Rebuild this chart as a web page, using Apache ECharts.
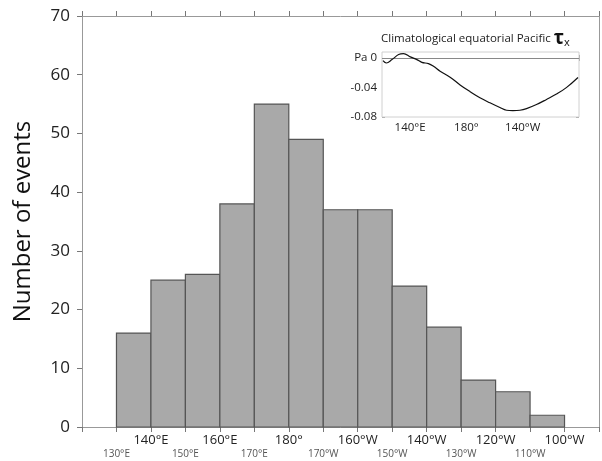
<!DOCTYPE html>
<html><head><meta charset="utf-8">
<script src="https://cdn.jsdelivr.net/npm/echarts@6/dist/echarts.min.js"></script>
<style>html,body{margin:0;padding:0;background:#fff}#c{width:602px;height:461px}</style>
</head><body><div id="c"></div>
<script>
// Histogram bins (degrees east longitude) and counts
const binStart = [130,140,150,160,170,180,190,200,210,220,230,240,250];
const binEnd   = [140,150,160,170,180,190,200,210,220,230,240,250,260];
const counts   = [16,25,26,38,55,49,37,37,24,17,8,6,2];
// Tick labels of the main x axis
const majorLabels = {140:'140°E',160:'160°E',180:'180°',200:'160°W',220:'140°W',240:'120°W',260:'100°W'};
const minorLabels = {130:'130°E',150:'150°E',170:'170°E',190:'170°W',210:'150°W',230:'130°W',250:'110°W'};
// Inset: climatological equatorial Pacific zonal wind stress (Pa)
const tauLon = [120.7,123.1,127.1,131.8,135.3,140.1,144.8,148.3,153.0,156.6,161.3,168.4,175.5,182.6,189.6,196.7,203.8,208.5,213,218.0,222.7,229.8,236.9,244.0,251.0,259.3];
const tauVal = [-0.0037,-0.0069,-0.0023,0.0046,0.0059,0.0014,-0.0023,-0.006,-0.0078,-0.0114,-0.018,-0.0261,-0.0366,-0.0457,-0.0539,-0.0608,-0.0672,-0.0709,-0.0715,-0.0709,-0.0686,-0.0631,-0.0562,-0.0489,-0.0402,-0.0265];
const insetLabels = {140:'140°E',180:'180°',220:'140°W'};

const FONT = '"Open Sans", "Noto Sans", sans-serif';
const barData = binStart.map((s,i)=>[s, binEnd[i], counts[i]]);
const tauData = tauLon.map((l,i)=>[l, tauVal[i]]);

const chart = echarts.init(document.getElementById('c'), null, {renderer:'canvas'});
chart.setOption({
  animation:false,
  backgroundColor:'#fff',
  textStyle:{fontFamily:FONT},
  graphic:[{
    type:'text', left:381, top:29, z:20,
    style:{text:'Climatological equatorial Pacific {t|τ}{s|x}',
      font:'11.5px '+FONT, fill:'#222',
      rich:{t:{fontSize:19, fontWeight:'bold', fill:'#111', fontFamily:FONT},
            s:{fontSize:11, fill:'#111', padding:[9,0,0,0], fontFamily:FONT}}}
  }],
  grid:[
    {left:82, top:16, right:1, bottom:34, show:false},
    {left:382, top:52, width:197, height:65, show:true, borderColor:'#d0d0d0', borderWidth:1, backgroundColor:'#fff', z:5}
  ],
  xAxis:[
    {gridIndex:0, type:'value', min:120, max:270, interval:10, position:'bottom',
     axisLine:{show:true, onZero:false, lineStyle:{color:'#999', width:1}},
     axisTick:{show:true, inside:false, length:5, lineStyle:{color:'#777'}},
     splitLine:{show:false},
     axisLabel:{margin:7, showMinLabel:true, showMaxLabel:true,
       formatter:v=> majorLabels[v] ? '{a|'+majorLabels[v]+'}' : (minorLabels[v] ? '{b|'+minorLabels[v]+'}' : ''),
       rich:{a:{fontSize:13, color:'#222', fontFamily:FONT},
             b:{fontSize:10, color:'#555', padding:[15,0,0,0], fontFamily:FONT}}}},
    {gridIndex:0, type:'value', min:120, max:270, interval:10, position:'top',
     axisLine:{show:true, onZero:false, lineStyle:{color:'#999', width:1}},
     axisTick:{show:true, inside:false, length:5, lineStyle:{color:'#777'}},
     splitLine:{show:false}, axisLabel:{show:false}},
    {gridIndex:1, type:'value', min:120, max:260, interval:10,
     axisLine:{show:false}, splitLine:{show:false},
     axisTick:{show:true, inside:true, length:3, lineStyle:{color:'#999'}},
     axisLabel:{margin:5, fontSize:11.5, color:'#222', formatter:v=>insetLabels[v]||''}},
    {gridIndex:1, type:'value', min:120, max:260, interval:10, position:'top',
     axisLine:{show:false}, splitLine:{show:false},
     axisTick:{show:true, inside:true, length:3, lineStyle:{color:'#999'}},
     axisLabel:{show:false}}
  ],
  yAxis:[
    {gridIndex:0, type:'value', min:0, max:70, interval:10,
     name:'Number of events', nameLocation:'middle', nameGap:47,
     nameTextStyle:{fontSize:24, color:'#111', fontFamily:FONT},
     axisLine:{show:true, lineStyle:{color:'#999', width:1}},
     axisTick:{show:true, inside:false, length:5, lineStyle:{color:'#777'}},
     splitLine:{show:false},
     axisLabel:{margin:12, fontSize:17, color:'#222'}},
    {gridIndex:0, type:'value', min:0, max:70, interval:10, position:'right',
     axisLine:{show:true, lineStyle:{color:'#999', width:1}},
     axisTick:{show:false}, splitLine:{show:false}, axisLabel:{show:false}},
    {gridIndex:1, type:'value', min:-0.08, max:0.008, interval:0.04,
     axisLine:{show:false}, splitLine:{show:false},
     axisTick:{show:true, inside:true, length:3, lineStyle:{color:'#999'}},
     minorTick:{show:true, splitNumber:4, length:2, lineStyle:{color:'#aaa'}},
     axisLabel:{margin:5, fontSize:11.5, color:'#222', showMaxLabel:false,
       formatter:v=> Math.abs(v)<1e-9 ? 'Pa 0' : v.toFixed(2)}},
    {gridIndex:1, type:'value', min:-0.08, max:0.008, interval:0.04, position:'right',
     axisLine:{show:false}, splitLine:{show:false},
     axisTick:{show:true, inside:true, length:3, lineStyle:{color:'#999'}},
     minorTick:{show:true, splitNumber:4, length:2, lineStyle:{color:'#aaa'}},
     axisLabel:{show:false}}
  ],
  series:[
    {type:'custom', xAxisIndex:0, yAxisIndex:0, data:barData, z:2,
     renderItem:(params, api)=>{
       const p0 = api.coord([api.value(0), 0]);
       const p1 = api.coord([api.value(1), api.value(2)]);
       return {type:'rect', shape:{x:p0[0], y:p1[1], width:p1[0]-p0[0], height:p0[1]-p1[1]},
               style:{fill:'#a9a9a9', stroke:'#555', lineWidth:1.2}};
     }},
    {type:'line', xAxisIndex:2, yAxisIndex:2, data:tauData, smooth:0.4, showSymbol:false, z:10,
     lineStyle:{color:'#111', width:1.2},
     markLine:{silent:true, symbol:'none', label:{show:false},
       lineStyle:{color:'#888', width:1, type:'solid'}, data:[{yAxis:0}]}}
  ]
});
</script></body></html>
